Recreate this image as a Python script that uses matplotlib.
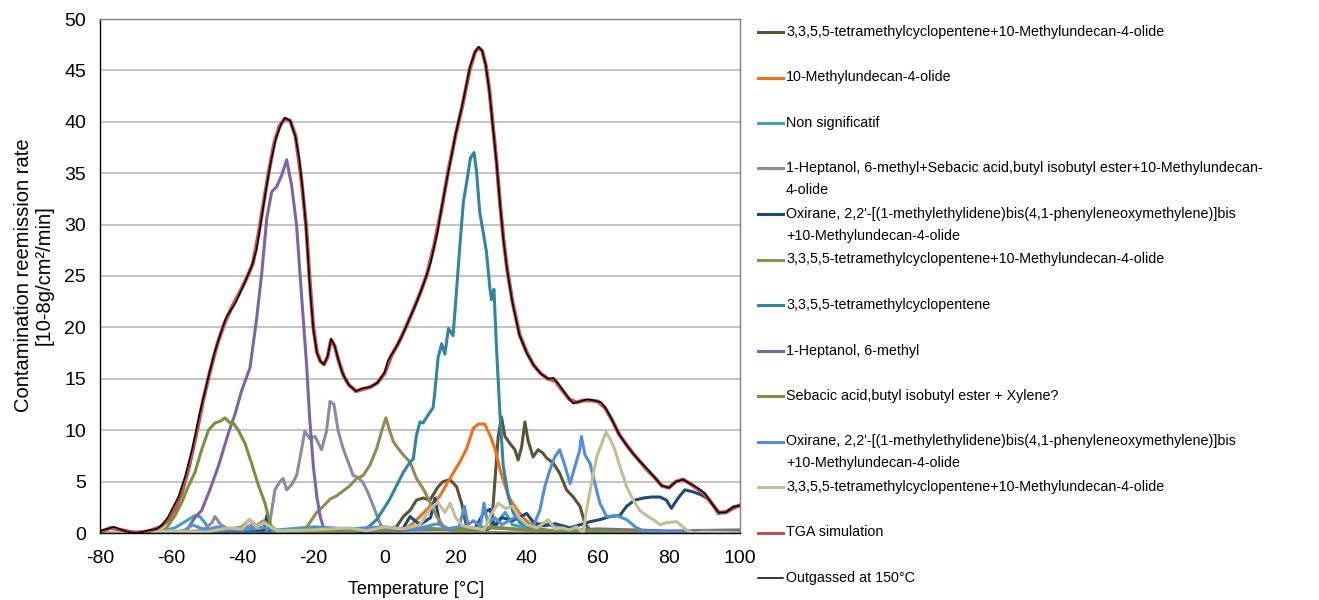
import numpy as np
import matplotlib
matplotlib.use('Agg')
import matplotlib.pyplot as plt
from matplotlib.lines import Line2D

plt.rcParams['font.family'] = ['Liberation Sans', 'DejaVu Sans']
plt.rcParams['axes.unicode_minus'] = False

# ---- data (temperature in C, rate in 10-8 g/cm2/min) ----
out_t = [-80, -78, -76, -74, -72, -70, -68, -66, -64, -62.5, -61, -59.5, -58, -56, -54, -52, -50, -48, -46,
         -44.5, -42, -40, -37.5, -36, -35, -33.5, -32, -30.5, -29, -28, -26.5, -25, -24, -23, -22, -21, -20,
         -19, -18, -17, -16, -15, -14, -13, -12, -11, -10, -8, -6, -4, -2, 0, 1, 3, 5, 7, 9, 11, 13, 15, 16,
         17.5, 19, 20, 22, 24, 25.5, 26.5, 27.5, 28.5, 29.5, 30.5, 31.5, 32.5, 33.5, 34.5, 36, 38, 40, 42, 44,
         46, 47.5, 49, 51, 53, 55, 57, 59, 61, 62.5, 64, 66, 68, 70, 72, 74, 76, 78, 80, 82, 84, 86, 88, 90,
         92, 94, 96, 98, 100]
out_v = [0.2, 0.4, 0.6, 0.3, 0.1, 0.0, 0.1, 0.3, 0.4, 0.8, 1.5, 2.5, 3.5, 5.6, 8.3, 11.6, 14.5, 17.3, 19.5,
         21.0, 22.3, 23.8, 25.8, 27.5, 29.6, 33.0, 36.0, 38.4, 39.8, 40.4, 40.1, 38.5, 36.5, 33.5, 29.5, 24.0,
         19.8, 17.5, 16.7, 16.4, 17.2, 18.9, 18.2, 16.9, 15.7, 15.0, 14.4, 13.8, 14.1, 14.2, 14.6, 15.6, 16.8,
         17.9, 19.2, 20.8, 22.4, 24.2, 26.3, 29.4, 31.5, 34.3, 36.9, 38.8, 41.8, 45.3, 46.8, 47.3, 46.9, 45.5,
         43.0, 39.5, 36.1, 32.0, 28.4, 25.6, 22.4, 19.2, 17.5, 16.3, 15.5, 15.0, 15.1, 14.5, 13.5, 12.6, 12.8,
         13.0, 12.9, 12.7, 12.0, 11.0, 9.6, 8.6, 7.7, 6.9, 6.2, 5.4, 4.6, 4.4, 5.0, 5.2, 4.8, 4.4, 3.9, 2.9,
         2.0, 2.0, 2.5, 2.7]

tga_t = [-80, -77, -74, -70, -66, -63, -61, -59, -57, -55, -53, -51, -49, -47, -45, -43, -41, -39, -37, -35.5,
         -34, -32.5, -31, -29.5, -28, -26.5, -25, -23.5, -22, -21, -20, -19, -18, -17, -16, -15, -14, -13,
         -11.5, -10, -8, -6, -4, -2, 0, 2, 4, 6, 8, 10, 12, 14, 16, 18, 20, 22, 24, 25.5, 26.5, 27.5, 28.5,
         29.5, 30.5, 31.5, 32.5, 33.5, 34.5, 36, 38, 40, 42, 44, 46, 48, 50, 52, 54, 56, 58, 60, 62, 64, 66,
         68, 70, 72, 74, 76, 78, 80, 82, 84, 86, 88, 90, 92, 94, 96, 98, 100]
tga_v = [0.1, 0.5, 0.3, 0.0, 0.2, 0.6, 1.2, 2.3, 3.9, 6.4, 9.5, 12.9, 15.8, 18.4, 20.4, 21.9, 23.2, 24.6,
         26.2, 28.9, 32.1, 35.2, 37.9, 39.6, 40.3, 40.1, 38.6, 34.8, 29.8, 24.5, 20.0, 17.6, 16.7, 16.4, 17.1,
         18.8, 18.2, 16.9, 15.3, 14.4, 13.8, 14.0, 14.2, 14.6, 15.5, 17.3, 18.5, 20.0, 21.6, 23.3, 25.2, 28.0,
         31.4, 35.3, 38.7, 41.7, 45.1, 46.8, 47.2, 46.9, 45.5, 43.1, 39.6, 36.2, 32.1, 28.5, 25.7, 22.5, 19.3,
         17.6, 16.3, 15.5, 15.0, 14.8, 13.9, 13.0, 12.7, 12.9, 12.9, 12.8, 12.2, 11.0, 9.6, 8.6, 7.7, 6.9,
         6.1, 5.4, 4.6, 4.4, 5.0, 5.2, 4.8, 4.3, 3.8, 2.9, 2.0, 2.0, 2.4, 2.7]

olive_t = [-80, -60, -45, -40, -36, -30, -20, -10, 0, 3.4, 5.3, 7.2, 9, 10.9, 12.8, 15.1, 16.5, 18.4, 20.3,
           21.7, 23.1, 25, 27.8, 30.1, 31.1, 32, 32.9, 33.9, 35.3, 36.7, 37.6, 38.6, 39.5, 40.4, 41.8, 43.2,
           44.5, 45.6, 47.5, 49.3, 51.2, 53.1, 55, 56.4, 57.8, 62, 70, 80, 100]
olive_v = [0, 0, 0.2, 0.5, 0.2, 0, 0.3, 0.2, 0.3, 0.6, 1.6, 2.2, 3.2, 3.4, 3.2, 4.5, 5.0, 5.2, 4.5, 2.9, 0.6,
           0.3, 0, 0.6, 5.2, 9.4, 11.3, 9.4, 8.7, 8.1, 7.1, 8.4, 10.8, 9.0, 7.4, 8.1, 7.8, 7.3, 6.8, 5.8, 4.2,
           3.5, 2.6, 0.9, 0.3, 0.1, 0.2, 0, 0]

orange_t = [-80, 0, 5, 7.2, 10, 12.8, 15.6, 18.4, 21.2, 23.1, 25, 26.4, 28.2, 29.7, 31.1, 32.5, 33.9, 35.3,
            37.2, 39.5, 41.8, 45, 50, 100]
orange_v = [0, 0, 0.3, 0.7, 1.6, 2.6, 3.6, 5.3, 6.9, 8.2, 10.2, 10.6, 10.6, 9.5, 8.2, 6.2, 4.6, 3.3, 2.3,
            1.3, 0.7, 0.3, 0, 0]

nonsig_t = [-80, -62.7, -58.9, -56.1, -53.3, -51.9, -50.5, -49.1, -45, -30, -20, -10, 0, 10, 20, 30, 32, 34,
            36, 40, 45, 50, 60, 100]
nonsig_v = [0, 0.2, 0.5, 1.1, 1.7, 1.6, 1.0, 0.2, 0.1, 0.3, 0.6, 0.4, 0.5, 0.3, 0.4, 0.5, 1.2, 2.0, 0.8, 0.5,
            1.0, 0.3, 0.1, 0]

gray_t = [-80, -52, -48.5, -47.7, -46, -44, -40, -37.5, -36, -34, -32.7, -31.7, -30.8, -29.4, -28.5, -27.5,
          -26.1, -24.7, -23.7, -22.4, -21, -19.5, -17.7, -16.3, -15.3, -14.2, -13, -11.6, -10.2, -8.8, -7.4,
          -6, -4.6, -3.1, -1.7, -0.3, 2, 10, 100]
gray_v = [0, 0, 1.0, 1.6, 0.8, 0.4, 0.3, 0.8, 0.3, 0.2, 0, 2.2, 4.2, 5.0, 5.3, 4.2, 4.7, 5.6, 7.4, 9.9, 9.2,
          9.4, 8.1, 9.9, 12.8, 12.5, 9.9, 8.2, 6.9, 5.6, 5.4, 4.9, 3.9, 2.6, 1.3, 0.3, 0.1, 0, 0]

navy_t = [-80, -40, -34, -33, -32.2, -30, -20, -10, 0, 5, 7.2, 10, 13, 14.2, 15.5, 17, 20, 25, 28, 29.7, 31,
          33, 36, 40, 42, 45, 48, 52.2, 55, 57.8, 60.6, 63.4, 66.2, 68.1, 70.4, 72.8, 75.1, 77.5, 79.3, 80.7,
          82.6, 84.5, 86.8, 89.2, 91.5, 93.9, 96.2, 98.5, 100]
navy_v = [0, 0, 0.2, 1.8, 0.2, 0.1, 0.2, 0.1, 0.2, 0.3, 1.6, 0.8, 1.5, 3.4, 1.0, 0.4, 0.5, 0.2, 2.0, 2.3,
          0.6, 1.5, 1.2, 1.9, 1.0, 0.7, 0.9, 0.5, 0.8, 1.1, 1.3, 1.6, 1.7, 2.6, 3.2, 3.4, 3.5, 3.5, 3.2, 2.4,
          3.4, 4.2, 4.0, 3.7, 3.2, 1.9, 2.1, 2.6, 2.6]

khaki_t = [-80, -60, -45, -40, -38, -36, -34, -30, -25, -22, -21, -19.1, -17.2, -15.3, -13.5, -11.6, -9.7,
           -7.8, -6, -4.1, -2.2, -0.8, 0.4, 1.5, 2.5, 3.9, 5.3, 7.2, 9, 10.9, 12.8, 14.7, 16.5, 19, 25, 35, 100]
khaki_v = [0, 0.1, 0.3, 0.6, 1.3, 0.7, 1.2, 0.2, 0.1, 0.5, 1.0, 2.0, 2.6, 3.3, 3.6, 4.1, 4.6, 5.3, 5.6, 6.6,
           8.2, 9.9, 11.2, 9.9, 8.9, 8.2, 7.6, 6.9, 5.3, 4.3, 3.0, 1.6, 0.7, 0.2, 0.1, 0, 0]

teal_t = [-80, -10, -6, -4.1, -2.2, -0.3, 1.5, 3.4, 5.3, 7.2, 8.1, 9.0, 10, 10.9, 12.3, 13.7, 14.2, 15.1,
          16.1, 17, 18, 19.3, 20.3, 21.2, 22.2, 23.3, 24.2, 25.2, 25.9, 26.8, 27.8, 28.7, 29.7, 30.1, 30.8,
          31.5, 32.5, 33.4, 34.8, 36.2, 38.1, 42, 50, 100]
teal_v = [0, 0, 0.3, 0.7, 1.3, 2.3, 3.3, 4.6, 5.9, 6.9, 7.2, 9.5, 10.8, 10.7, 11.5, 12.2, 13.8, 17.1, 18.4,
          17.4, 19.9, 19.2, 23.7, 27.9, 32.2, 34.5, 36.5, 37.0, 35.2, 31.2, 29.2, 27.3, 23.7, 22.7, 23.7, 18.1,
          11.5, 6.6, 3.6, 2.0, 1.0, 0.4, 0.1, 0]

purple_t = [-80, -60, -56.1, -53.3, -51.4, -49.1, -46.7, -43.9, -42, -40.2, -37.8, -36, -34.5, -33.1, -31.7,
            -30.3, -28.9, -27.5, -26.1, -24.7, -23.3, -21.9, -21, -20, -19, -18, -17, -15, -10, 0, 10, 20,
            30, 40, 50, 60, 70, 80, 100]
purple_v = [0, 0, 0, 1.5, 2.2, 4.2, 6.5, 9.7, 11.6, 13.8, 16.1, 20.7, 25.3, 30.6, 33.2, 33.7, 34.8, 36.3,
            33.8, 29.9, 23.0, 16.4, 11, 6.5, 3.5, 1.5, 0.4, 0.1, 0.3, 0.2, 0.4, 0.3, 0.5, 0.3, 0.2, 0.4, 0.3,
            0.2, 0.3]

green_t = [-80, -63.1, -61.3, -58.9, -57, -55.2, -53.3, -51.4, -49.5, -47.7, -46, -44.9, -43.4, -42.5, -41.1,
           -39.2, -37.4, -35.5, -33.6, -32.2, -31.3, -25, -10, 0, 10, 20, 30, 40, 60, 80, 100]
green_v = [0, 0, 0.5, 1.7, 3.0, 4.5, 5.9, 8.1, 10.0, 10.7, 10.9, 11.2, 10.7, 10.7, 10.0, 8.7, 6.8, 4.7, 2.9,
           1.0, 0, 0.1, 0.2, 0.3, 0.5, 0.3, 0.6, 0.3, 0.2, 0.1, 0.1]

lblue_t = [-80, -60, -56, -54, -52, -50, -47, -44, -40, -36, -33, -30, -25, -20, -10, 0, 5, 10, 15, 18, 21,
           22.5, 23.5, 25, 27, 28, 29, 31, 33, 35, 37, 40, 41.8, 43.7, 45.1, 46.5, 47.9, 49.3, 50.8, 52.2,
           53.6, 54.8, 55.4, 56.4, 57.8, 59.2, 60.6, 62.5, 65.3, 68.1, 70.9, 73.7, 80, 100]
lblue_v = [0, 0, 0.3, 0.8, 0.5, 0.3, 0.6, 0.4, 0.3, 0.6, 0.5, 0.2, 0.3, 0.5, 0.4, 0.6, 0.4, 0.5, 0.9, 0.4,
           0.6, 2.6, 0.8, 1.2, 0.7, 2.9, 1.0, 1.5, 0.8, 1.2, 1.6, 0.8, 0.6, 2.2, 4.5, 6.1, 7.4, 8.1, 6.5, 4.8,
           6.5, 7.9, 9.4, 7.6, 6.8, 4.8, 2.9, 1.6, 1.7, 1.3, 0.5, 0.1, 0.1, 0]

tan_t = [-80, -70, -60, -50, -44, -40, -38, -36, -34, -30, -20, -10, -5, 0, 5, 10, 13, 15, 17, 18.5, 20, 22,
         25, 28, 30, 32, 34, 36, 38, 40, 43, 46, 48, 50, 52, 54, 55.9, 56.8, 58.2, 59.7, 61.1, 62.3, 63.4,
         64.8, 66.2, 68.1, 70, 71.8, 73.7, 75.6, 77.5, 79.3, 82.2, 85, 86.8, 90, 100]
tan_v = [0, 0.1, 0.2, 0.1, 0.5, 0.4, 1.3, 0.6, 1.0, 0.2, 0.3, 0.5, 0.2, 0.6, 0.4, 0.8, 2.4, 3.0, 2.0, 2.9,
         1.5, 0.7, 0.5, 0.3, 1.8, 2.9, 2.4, 2.6, 1.5, 0.8, 0.5, 1.3, 0.4, 0.5, 0.3, 0.6, 0, 2.2, 4.8, 7.4,
         8.7, 9.8, 9.2, 8.1, 6.5, 4.5, 3.2, 2.2, 1.7, 1.3, 0.8, 1.0, 1.1, 0.3, 0, 0.1, 0]

label_olive = '3,3,5,5-tetramethylcyclopentene+10-Methylundecan-4-olide'
label_orange = '10-Methylundecan-4-olide'
label_nonsig = 'Non significatif'
label_gray = '1-Heptanol, 6-methyl+Sebacic acid,butyl isobutyl ester+10-Methylundecan-\n4-olide'
label_oxi = 'Oxirane, 2,2\'-[(1-methylethylidene)bis(4,1-phenyleneoxymethylene)]bis\n+10-Methylundecan-4-olide'
label_teal = '3,3,5,5-tetramethylcyclopentene'
label_purple = '1-Heptanol, 6-methyl'
label_green = 'Sebacic acid,butyl isobutyl ester + Xylene?'
label_tga = 'TGA simulation'
label_out = 'Outgassed at 150°C'

# (x, y, label, colour, line width) in legend order
series = [
    (olive_t, olive_v, label_olive, '#5B5336', 2.2),
    (orange_t, orange_v, label_orange, '#EE7018', 2.2),
    (nonsig_t, nonsig_v, label_nonsig, '#42A0BC', 2.2),
    (gray_t, gray_v, label_gray, '#8F8AA3', 2.2),
    (navy_t, navy_v, label_oxi, '#1F497D', 2.2),
    (khaki_t, khaki_v, label_olive, '#948A54', 2.2),
    (teal_t, teal_v, label_teal, '#31859C', 2.2),
    (purple_t, purple_v, label_purple, '#8064A2', 2.2),
    (green_t, green_v, label_green, '#77933C', 2.2),
    (lblue_t, lblue_v, label_oxi, '#558ED5', 2.2),
    (tan_t, tan_v, label_olive, '#C4BD97', 2.2),
    (tga_t, tga_v, label_tga, '#C0504D', 2.8),
    (out_t, out_v, label_out, 'black', 1.1),
]

W, H = 1319, 600
fig = plt.figure(figsize=(W / 100, H / 100), dpi=100)
ax = fig.add_axes([100 / W, 67 / H, 640 / W, 514 / H])

for t, v, lab, col, lw in series:
    ax.plot(t, v, color=col, lw=lw, solid_joinstyle='round')

ax.set_xlim(-80, 100)
ax.set_ylim(0, 50)
ax.set_xticks(np.arange(-80, 101, 20))
ax.set_yticks(np.arange(0, 51, 5))
ax.yaxis.grid(True, color='#BFBFBF', lw=1.3)
ax.set_axisbelow(True)
ax.tick_params(axis='both', length=0, labelsize=14)
ax.tick_params(axis='y', pad=10)
ax.tick_params(axis='x', pad=12)
for s in ['left', 'bottom']:
    ax.spines[s].set_color('black')
    ax.spines[s].set_linewidth(1.0)
for s in ['top', 'right']:
    ax.spines[s].set_color('#808080')
    ax.spines[s].set_linewidth(1.0)

fig.text(416 / W, 1 - 589 / H, 'Temperature [°C]', ha='center', va='center', fontsize=13)
fig.text(34 / W, 1 - 275 / H, 'Contamination reemission rate\n[10-8g/cm²/min]', ha='center', va='center',
         rotation=90, fontsize=14.5, linespacing=1.1)

# legend drawn by hand so wrapped labels keep the key on their first line
for i, (t, v, lab, col, lw) in enumerate(series):
    yc = 1 - (32 + i * 45.5) / H
    fig.add_artist(Line2D([758 / W, 783 / W], [yc, yc], color=col, lw=lw if lw < 2 else 2.2))
    for j, line in enumerate(lab.split('\n')):
        fig.text(786 / W, yc - j * 22 / H, line, ha='left', va='center', fontsize=10.3)

fig.savefig('out.png', dpi=100)
